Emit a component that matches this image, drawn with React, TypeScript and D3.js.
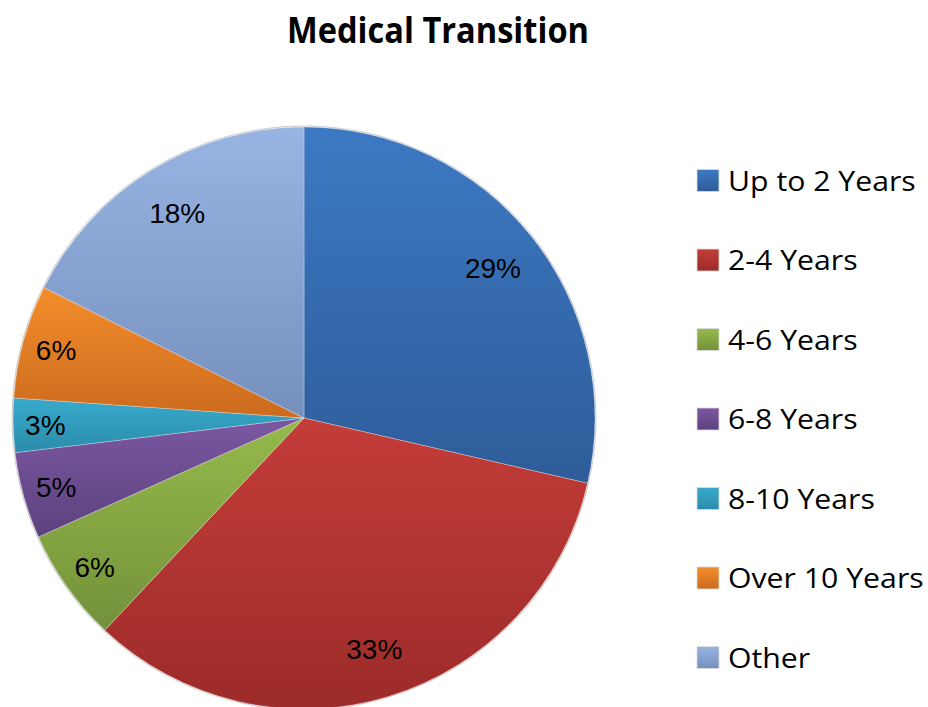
import React from "react";
import * as d3 from "d3";

const title = "Medical Transition";
const categories = ["Up to 2 Years", "2-4 Years", "4-6 Years", "6-8 Years", "8-10 Years", "Over 10 Years", "Other"];
const values = [28.6, 33.4, 6.3, 4.8, 3.0, 6.3, 17.6];
const topColors = ["#3c79c3", "#c43d39", "#95ba4b", "#7c58a2", "#38aacb", "#f38d2c", "#97b4e2"];
const bottomColors = ["#2e5c99", "#9c2b29", "#74913a", "#5c417e", "#2b8cab", "#cc6b1e", "#7690be"];

export default function App() {
  const W = 928, H = 707;
  const cx = 304, cy = 418, r = 291;
  const total = d3.sum(values);
  const pie = d3.pie<number>().sort(null).value((d) => d);
  const arcs = pie(values);
  const arc = d3.arc<d3.PieArcDatum<number>>().innerRadius(0).outerRadius(r);
  const pct = (v: number) => `${Math.round((v / total) * 100)}%`;

  const labelPos = (a: d3.PieArcDatum<number>) => {
    const mid = (a.startAngle + a.endAngle) / 2;
    const s = Math.sin(mid), c = Math.cos(mid);
    let R = r * 0.83;
    if (a.data / total < 0.1) {
      const ext = 20 * Math.abs(s) + 10 * Math.abs(c);
      R = r - ext - 12;
    }
    return [R * s, -R * c];
  };

  const legendY = d3.scalePoint<string>().domain(categories).range([180.5, 657.5]);

  return (
    <svg width={W} height={H} style={{ position: "absolute", left: 0, top: 0, background: "#fff" }}>
      <defs>
        {categories.map((c, i) => (
          <linearGradient key={c} id={`g${i}`} x1="0" y1="0" x2="0" y2="1">
            <stop offset="0%" stopColor={topColors[i]} />
            <stop offset="100%" stopColor={bottomColors[i]} />
          </linearGradient>
        ))}
      </defs>
      <text x={438} y={43} textAnchor="middle" fontFamily="'Open Sans', sans-serif" fontWeight="bold" fontSize={36} textLength={302} lengthAdjust="spacingAndGlyphs" fill="#000">
        {title}
      </text>
      <g transform={`translate(${cx},${cy})`}>
        <circle r={r + 0.8} fill="none" stroke="#bbb" strokeWidth={1.2} opacity={0.7} />
        {arcs.map((a, i) => (
          <path key={i} d={arc(a) || ""} fill={`url(#g${i})`} stroke="rgba(255,255,255,0.35)" strokeWidth={0.8} />
        ))}
        {arcs.map((a, i) => {
          const [x, y] = labelPos(a);
          return (
            <text key={i} x={x} y={y} dy="0.36em" textAnchor="middle" fontFamily="'Liberation Sans', Arial, sans-serif" fontSize={28} fill="#000">
              {pct(a.data)}
            </text>
          );
        })}
      </g>
      <g>
        {categories.map((c, i) => {
          const y = legendY(c) as number;
          return (
            <g key={c}>
              <rect x={697} y={y - 11} width={22} height={22} fill={`url(#g${i})`} stroke="#ddd" strokeWidth={0.8} />
              <g transform={`translate(728,${y + 10}) scale(1.12,1)`}>
                <text x={0} y={0} fontFamily="'Open Sans', sans-serif" fontSize={27} fill="#000">
                  {c}
                </text>
              </g>
            </g>
          );
        })}
      </g>
    </svg>
  );
}
